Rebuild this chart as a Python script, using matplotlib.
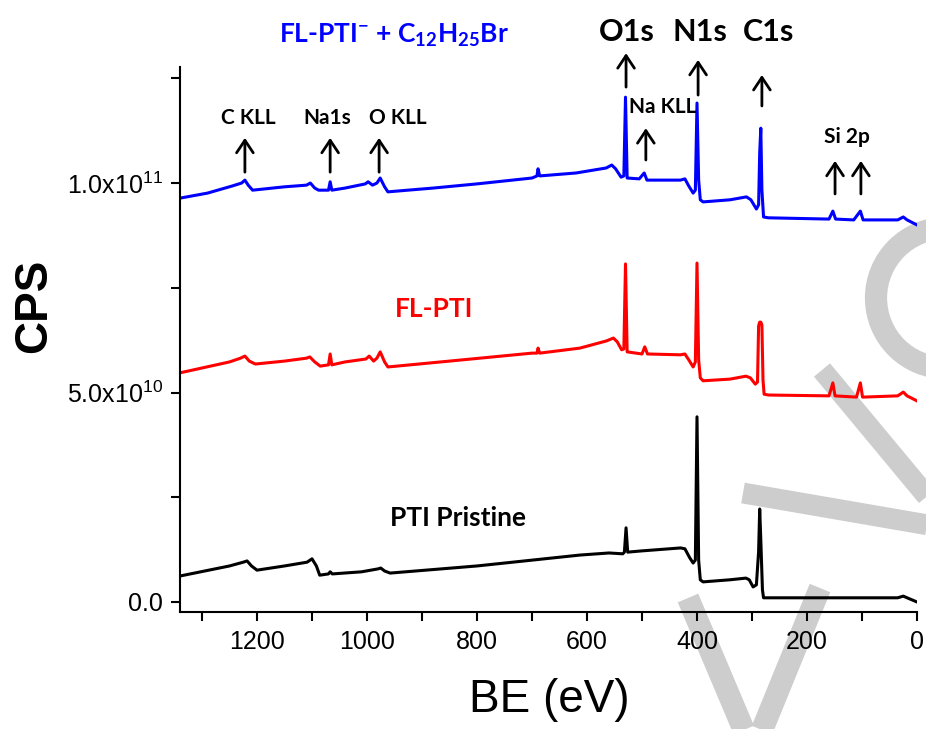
import numpy as np
import matplotlib
matplotlib.use("Agg")
import matplotlib.pyplot as plt
from matplotlib.ticker import FixedLocator, FixedFormatter, MultipleLocator
from matplotlib.lines import Line2D
from matplotlib.patches import Circle

plt.rcParams['font.family'] = ['Liberation Sans', 'DejaVu Sans']
plt.rcParams['mathtext.default'] = 'regular'

# ---------------- data (CPS in units of 1e10) ----------------
blue_be = [1340, 1290, 1245, 1228, 1222, 1216, 1208, 1150, 1110, 1103,
           1095, 1088, 1070, 1067, 1064, 1040, 1003, 998, 990, 982,
           976, 968, 962, 880, 800, 700, 691, 689, 686, 620,
           565, 555, 548, 538, 533, 530, 527, 505, 496, 491,
           430, 422, 415, 407, 403, 400, 397, 394, 389, 340,
           310, 302, 292, 288, 286, 284, 282, 279, 270, 160,
           153, 148, 115, 103, 98, 35, 25, 18, 0]
blue_cps = [9.64, 9.76, 9.93, 10.00, 10.07, 9.95, 9.83, 9.91, 9.95, 10.00,
            9.88, 9.83, 9.83, 10.03, 9.83, 9.88, 9.98, 10.03, 9.95, 10.00,
            10.12, 9.91, 9.79, 9.88, 9.98, 10.12, 10.17, 10.34, 10.17, 10.24,
            10.36, 10.43, 10.34, 10.14, 10.17, 12.05, 10.12, 10.10, 10.24, 10.07,
            10.07, 10.10, 9.93, 9.76, 9.83, 11.91, 10.07, 9.60, 9.55, 9.60,
            9.67, 9.60, 9.38, 9.48, 10.72, 11.31, 9.83, 9.19, 9.17, 9.14,
            9.33, 9.14, 9.12, 9.33, 9.12, 9.12, 9.19, 9.12, 9.00]

red_be = [1340, 1250, 1230, 1222, 1214, 1203, 1150, 1110, 1104, 1095,
          1085, 1070, 1067, 1064, 1040, 1002, 996, 988, 982, 976,
          968, 962, 850, 700, 691, 689, 686, 613, 565, 552,
          545, 537, 533, 530, 527, 500, 495, 490, 430, 422,
          415, 407, 403, 400, 397, 394, 389, 340, 311, 303,
          294, 290, 288, 286, 284, 282, 280, 278, 270, 160,
          153, 149, 110, 103, 99, 35, 25, 18, 0]
red_cps = [5.47, 5.73, 5.82, 5.87, 5.75, 5.68, 5.75, 5.82, 5.85, 5.73,
           5.63, 5.66, 5.92, 5.66, 5.73, 5.80, 5.87, 5.75, 5.82, 5.97,
           5.73, 5.61, 5.75, 5.94, 5.94, 6.06, 5.94, 6.06, 6.23, 6.30,
           6.21, 6.02, 6.04, 8.07, 5.97, 5.92, 6.09, 5.92, 5.90, 5.92,
           5.78, 5.61, 5.73, 8.09, 5.78, 5.35, 5.28, 5.32, 5.39, 5.35,
           5.20, 5.25, 6.59, 6.68, 6.68, 6.61, 5.30, 4.96, 4.94, 4.92,
           5.23, 4.92, 4.89, 5.23, 4.89, 4.92, 5.01, 4.92, 4.80]

black_be = [1340, 1250, 1225, 1218, 1210, 1200, 1150, 1109, 1100, 1092,
            1086, 1070, 1067, 1063, 1010, 980, 975, 968, 958, 800,
            613, 560, 535, 532, 529, 526, 500, 430, 422, 413,
            407, 403, 400, 397, 394, 389, 340, 311, 305, 298,
            292, 288, 286, 284, 281, 279, 200, 100, 35, 25,
            18, 0]
black_cps = [0.62, 0.86, 0.95, 0.98, 0.86, 0.76, 0.86, 0.95, 1.03, 0.86,
             0.64, 0.67, 0.72, 0.67, 0.72, 0.79, 0.81, 0.74, 0.69, 0.86,
             1.12, 1.17, 1.15, 1.19, 1.77, 1.19, 1.22, 1.29, 1.27, 1.05,
             0.93, 1.00, 4.42, 1.00, 0.53, 0.48, 0.53, 0.57, 0.53, 0.36,
             0.41, 1.20, 2.22, 1.48, 0.29, 0.10, 0.10, 0.10, 0.10, 0.14,
             0.10, 0.00]

# peak annotations: label, label x (eV), label baseline (1e10), font size
peak_labels = ["C KLL", "Na1s", "O KLL", "Na KLL", "Si 2p", "O1s", "N1s", "C1s"]
peak_label_x = [1215, 1073, 944, 462, 127, 527, 395, 269]
peak_label_y = [11.41, 11.41, 11.41, 11.67, 10.96, 13.39, 13.39, 13.39]
peak_label_size = [15, 15, 15, 15, 15, 22, 22, 22]

# arrows: x (eV), tip (1e10), tail (1e10)
arrow_x = [1222, 1067, 978, 493, 149, 102, 529, 398, 282]
arrow_tip = [11.08, 11.08, 11.08, 11.31, 10.53, 10.53, 13.10, 12.94, 12.58]
arrow_tail = [10.26, 10.26, 10.26, 10.55, 9.74, 9.74, 12.29, 12.10, 11.84]

series_labels = [r"FL-PTI$^{-}$ + C$_{12}$H$_{25}$Br", "FL-PTI", "PTI Pristine"]
series_label_x = [951, 878, 835]
series_label_y = [13.34, 6.80, 1.81]
series_colors = ["#0000ff", "#ff0000", "#000000"]

x_ticks = [0, 200, 400, 600, 800, 1000, 1200]
y_ticks = [0, 2.5e10, 5e10, 7.5e10, 1e11, 1.25e11]
y_ticklabels = ["0.0", "", r"5.0x10$^{10}$", "", r"1.0x10$^{11}$", ""]

# ---------------- figure ----------------
W, H = 926, 729
fig = plt.figure(figsize=(W / 100, H / 100), dpi=100)
ax = fig.add_axes([180 / W, 1 - 612 / H, (917 - 180) / W, (612 - 67) / H])
ax.patch.set_alpha(0)

# faint watermark strokes (background decoration)
def fp(x, y):
    return (x / W, 1 - y / H)

wm_color = "#cdcdcd"
for (x0, y0), (x1, y1), lw in [((822, 370), (940, 512), 15), ((743, 493), (940, 527), 15),
                               ((820, 588), (758, 740), 16), ((688, 598), (748, 740), 16)]:
    a, b = fp(x0, y0), fp(x1, y1)
    fig.add_artist(Line2D([a[0], b[0]], [a[1], b[1]], transform=fig.transFigure,
                          color=wm_color, lw=lw, solid_capstyle='butt', zorder=-5))
circ = Circle((946, H - 298), 70, transform=None, fill=False, ec=wm_color, lw=16, zorder=-5)
fig.add_artist(circ)

scale = 1e10
for be, cps, col in [(black_be, black_cps, series_colors[2]),
                     (red_be, red_cps, series_colors[1]),
                     (blue_be, blue_cps, series_colors[0])]:
    ax.plot(be, np.array(cps) * scale, color=col, lw=2.2, solid_joinstyle='round')

ax.set_xlim(1340, 0)
ax.set_ylim(-0.239e10, 12.77e10)

for s in ['top', 'right']:
    ax.spines[s].set_visible(False)
for s in ['left', 'bottom']:
    ax.spines[s].set_linewidth(1.5)

ax.set_xticks(x_ticks)
ax.xaxis.set_minor_locator(MultipleLocator(100))
ax.yaxis.set_major_locator(FixedLocator(y_ticks))
ax.yaxis.set_major_formatter(FixedFormatter(y_ticklabels))
ax.tick_params(axis='both', which='both', direction='out', length=6.5, width=1.5,
               labelsize=18, pad=6)
ax.tick_params(axis='x', which='major', pad=6.5)

ax.set_xlabel("BE (eV)", fontsize=33, va='baseline')
ax.xaxis.set_label_coords((549 - 180) / 737, (612 - 712) / 545)
ax.set_ylabel("CPS", fontsize=33, fontweight='bold', va='center')
ax.yaxis.set_label_coords((34 - 180) / 737, (612 - 306) / 545)

for lab, x, y, fs in zip(peak_labels, peak_label_x, peak_label_y, peak_label_size):
    ax.text(x, y * scale, lab, fontsize=fs, fontfamily='Lato', fontweight='bold',
            ha='center', va='baseline', color='black', clip_on=False)

for x, t, b in zip(arrow_x, arrow_tip, arrow_tail):
    ax.annotate('', xy=(x, t * scale), xytext=(x, b * scale),
                arrowprops=dict(arrowstyle='->,head_length=0.3,head_width=0.2',
                                lw=2.0, color='black', shrinkA=0, shrinkB=0,
                                mutation_scale=30),
                annotation_clip=False)

for lab, x, y, col in zip(series_labels, series_label_x, series_label_y, series_colors):
    ax.text(x, y * scale, lab, fontsize=19, fontfamily='Lato', fontweight='bold',
            ha='center', va='baseline', color=col, clip_on=False)

fig.savefig("out.png", dpi=100)
